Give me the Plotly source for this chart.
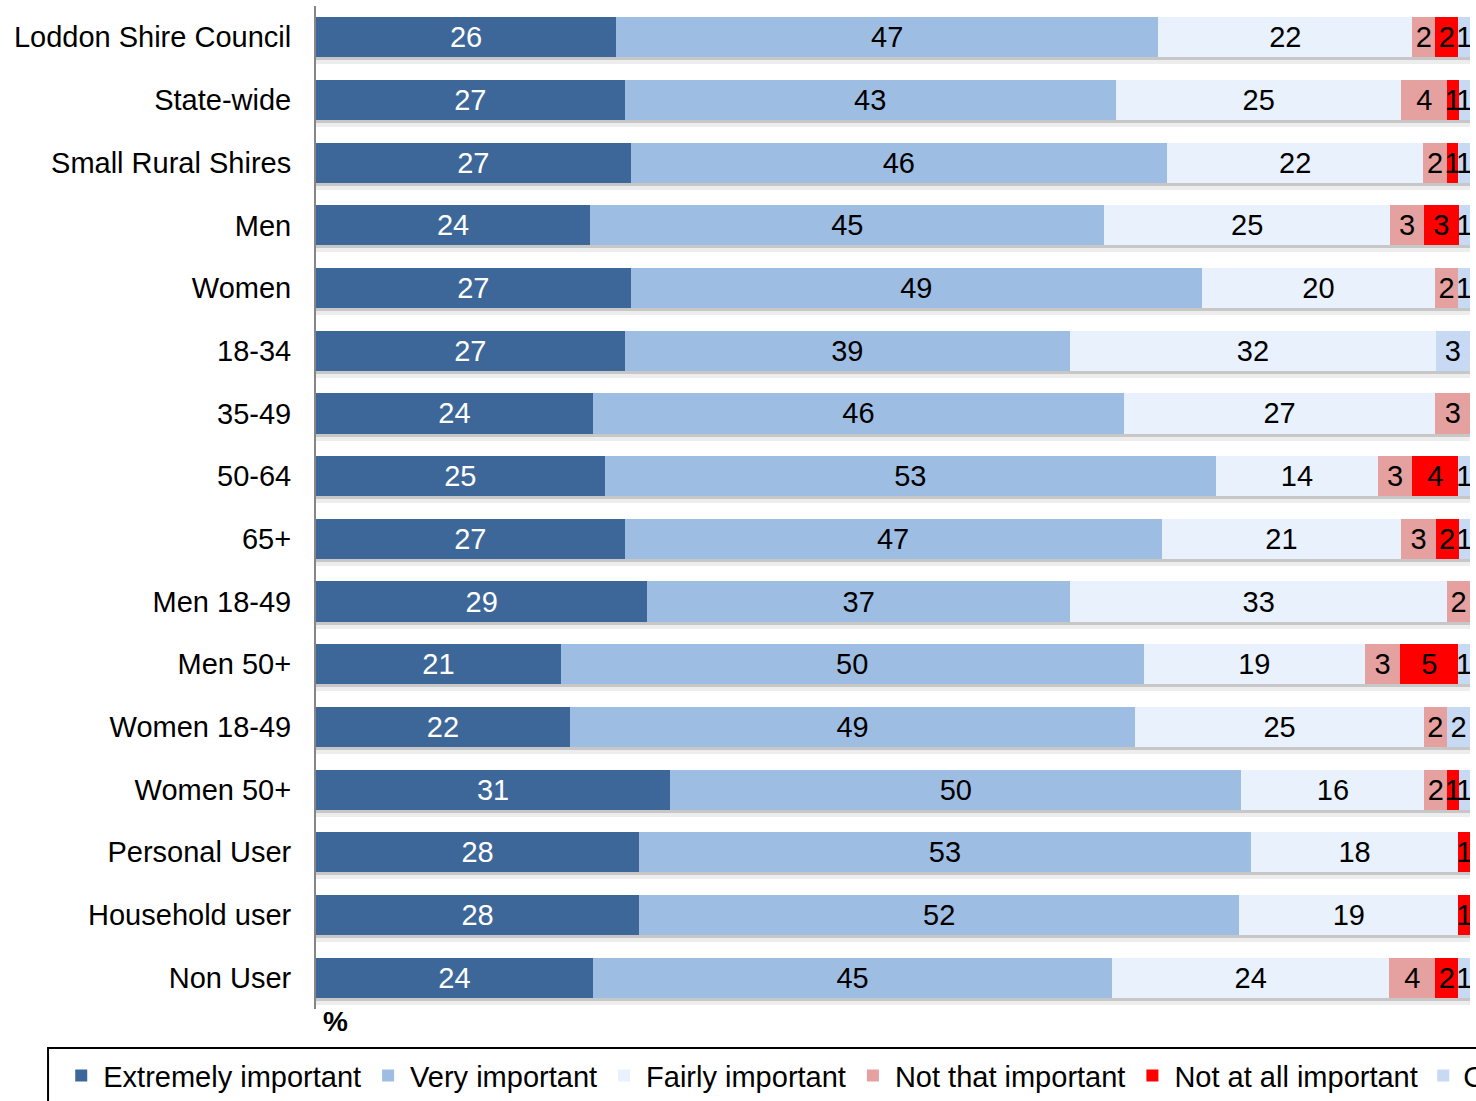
import plotly.graph_objects as go

categories = ["Loddon Shire Council", "State-wide", "Small Rural Shires", "Men", "Women",
              "18-34", "35-49", "50-64", "65+", "Men 18-49", "Men 50+", "Women 18-49",
              "Women 50+", "Personal User", "Household user", "Non User"]

extremely = [26, 27, 27, 24, 27, 27, 24, 25, 27, 29, 21, 22, 31, 28, 28, 24]
very = [47, 43, 46, 45, 49, 39, 46, 53, 47, 37, 50, 49, 50, 53, 52, 45]
fairly = [22, 25, 22, 25, 20, 32, 27, 14, 21, 33, 19, 25, 16, 18, 19, 24]
not_that = [2, 4, 2, 3, 2, 0, 3, 3, 3, 2, 3, 2, 2, 0, 0, 4]
not_at_all = [2, 1, 1, 3, 0, 0, 0, 4, 2, 0, 5, 0, 1, 1, 1, 2]
cant_say = [1, 1, 1, 1, 1, 3, 0, 1, 1, 0, 1, 2, 1, 0, 0, 1]

series_names = ["Extremely important", "Very important", "Fairly important",
                "Not that important", "Not at all important", "Can't say"]
series_values = [extremely, very, fairly, not_that, not_at_all, cant_say]
colors = ["#3d6799", "#9ebde3", "#e8f1fc", "#e5a19f", "#ff0000", "#c8d9f3"]
text_colors = ["white", "black", "black", "black", "black", "black"]
legend_ids = ["legend", "legend", "legend", "legend", "legend", "legend2"]

FONT = "Liberation Sans, Arial, sans-serif"
FS = 29

n = len(categories)
totals = [sum(v[i] for v in series_values) for i in range(n)]

fig = go.Figure()

# soft drop shadow under every bar (two layers, drawn on underlying axes)
fig.add_trace(go.Bar(y=categories, x=totals, orientation="h", xaxis="x", yaxis="y",
                     marker=dict(color="rgba(0,0,0,0.07)", line=dict(width=0)),
                     showlegend=False, hoverinfo="skip"))
fig.add_trace(go.Bar(y=categories, x=totals, orientation="h", xaxis="x2", yaxis="y2",
                     marker=dict(color="rgba(0,0,0,0.16)", line=dict(width=0)),
                     showlegend=False, hoverinfo="skip"))

for name, vals, col, tcol, lg in zip(series_names, series_values, colors, text_colors, legend_ids):
    fig.add_trace(go.Bar(
        y=categories, x=vals, name=name, orientation="h", xaxis="x3", yaxis="y3",
        marker=dict(color=col, line=dict(width=0)),
        text=[str(v) if v > 0 else "" for v in vals],
        texttemplate="%{text}",
        textposition="inside", insidetextanchor="middle",
        constraintext="none",
        textfont=dict(family=FONT, size=FS, color=tcol),
        legend=lg, hoverinfo="skip",
    ))

plot_h = 1101 - 6 - 92
unit = plot_h / n  # px per category
s1 = 7 / unit
s2 = 3 / unit
base_range = [n - 0.5, -0.5]

fig.update_layout(
    width=1476, height=1101,
    margin=dict(l=316, r=6, t=6, b=92, autoexpand=False),
    barmode="stack", barnorm="percent", bargap=0.36,
    plot_bgcolor="white", paper_bgcolor="white",
    font=dict(family=FONT, size=FS, color="black"),
    uniformtext=dict(minsize=FS, mode="show"),
    showlegend=True,
    xaxis=dict(range=[0, 99.7], visible=False, showgrid=False, zeroline=False),
    yaxis=dict(range=[base_range[0] - s1, base_range[1] - s1], visible=False,
               showgrid=False, zeroline=False),
    xaxis2=dict(range=[0, 99.8], overlaying="x", visible=False, showgrid=False, zeroline=False),
    yaxis2=dict(range=[base_range[0] - s2, base_range[1] - s2], overlaying="y", visible=False,
                showgrid=False, zeroline=False),
    xaxis3=dict(range=[0, 100], overlaying="x", showticklabels=False, showgrid=False,
                zeroline=False, showline=False, ticks=""),
    yaxis3=dict(range=base_range, overlaying="y", side="left", showgrid=False, zeroline=False,
                showline=True, linecolor="#868686", linewidth=2, ticks="",
                ticklabelstandoff=17,
                tickfont=dict(family=FONT, size=FS, color="black")),
    legend=dict(orientation="h", x=-0.2225, xanchor="left", y=-0.041, yanchor="top",
                itemwidth=34,
                font=dict(family=FONT, size=FS, color="black"),
                bgcolor="rgba(0,0,0,0)", borderwidth=0, traceorder="normal"),
    legend2=dict(orientation="h", x=0.9595, xanchor="left", y=-0.041, yanchor="top",
                 itemwidth=30,
                 font=dict(family=FONT, size=FS, color="black"),
                 bgcolor="rgba(0,0,0,0)", borderwidth=0),
    shapes=[dict(type="rect", xref="paper", yref="paper",
                 x0=-0.2322, x1=1.2, y0=-0.039, y1=-0.2,
                 line=dict(color="black", width=2), fillcolor="rgba(0,0,0,0)", layer="below")],
    annotations=[dict(text="<b>%</b>", xref="paper", yref="paper", x=0.0, y=0.005,
                      xanchor="left", yanchor="top", showarrow=False, xshift=5,
                      font=dict(family=FONT, size=28, color="black"))],
)

fig.write_html(
    "out.html",
    config={"displayModeBar": False},
    post_script=("document.body.style.margin='0';"
                 "document.body.style.overflow='hidden';"
                 "document.documentElement.style.overflow='hidden';"),
)
